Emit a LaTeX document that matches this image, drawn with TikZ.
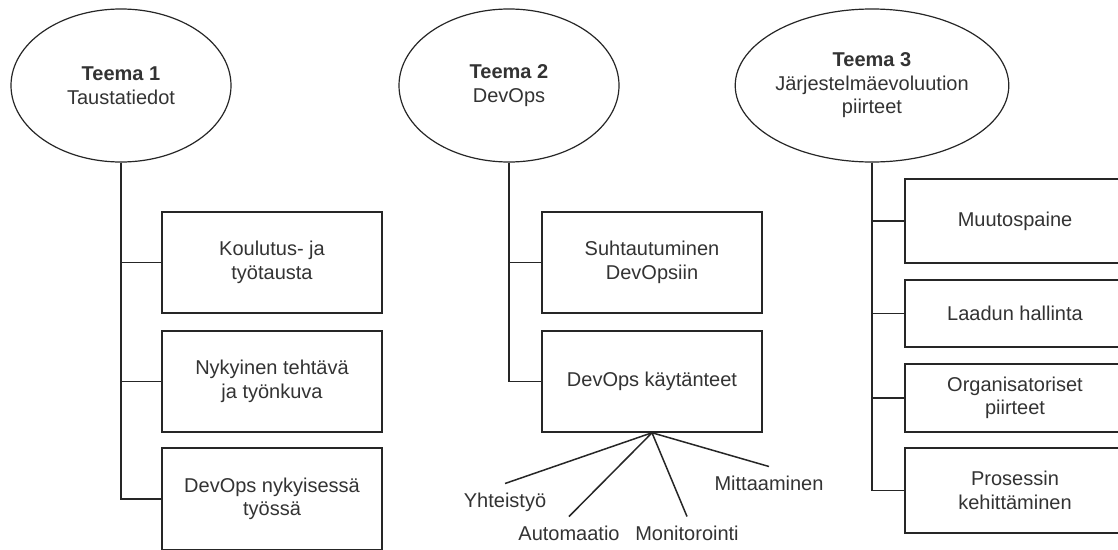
\documentclass[tikz,border=0pt]{standalone}
\usepackage{fontspec}
\setmainfont{Liberation Sans}
\usetikzlibrary{shapes.geometric}

\begin{document}
\begin{tikzpicture}[x=1pt, y=-1pt,
  every node/.style={font=\fontsize{20}{23.5}\selectfont, text=black!80},
  theme/.style={ellipse, draw=black!85, line width=1.2pt,
    minimum width=220pt, minimum height=153pt, inner sep=0pt, align=center},
  topic/.style={draw=black!85, line width=1.5pt, minimum width=220pt,
    inner sep=0pt, align=center},
  leaf/.style={inner sep=0pt, outer ysep=9pt, anchor=base},
  link/.style={draw=black!85, line width=1.5pt}]

  \fill[white] (0,0) rectangle (1118,549);
  \useasboundingbox (0,0) rectangle (1118,549);

  % themes
  \node[theme] (e1) at (121,85.5) {\textbf{Teema 1}\\Taustatiedot};
  \node[theme] (e2) at (509,85.5) {\textbf{Teema 2}\\DevOps};
  \node[theme] (e3) at (872,85.5) {\textbf{Teema 3}\\Järjestelmäevoluution\\piirteet};

  % theme 1 topics
  \node[topic, minimum height=101pt] (a1) at (272,262.5) {Koulutus- ja\\työtausta};
  \node[topic, minimum height=101pt] (a2) at (272,381.5) {Nykyinen tehtävä\\ja työnkuva};
  \node[topic, minimum height=102pt] (a3) at (272,499) {DevOps nykyisessä\\työssä};

  % theme 2 topics
  \node[topic, minimum height=101pt] (b1) at (652,262.5) {Suhtautuminen\\DevOpsiin};
  \node[topic, minimum height=101pt] (b2) at (652,381.5) {DevOps käytänteet};

  % theme 3 topics
  \node[topic, minimum height=84pt] (c1) at (1015,221) {Muutospaine};
  \node[topic, minimum height=67pt] (c2) at (1015,313.5) {Laadun hallinta};
  \node[topic, minimum height=68pt] (c3) at (1015,398) {Organisatoriset\\piirteet};
  \node[topic, minimum height=85pt] (c4) at (1015,490.5) {Prosessin\\kehittäminen};

  % practices
  \node[leaf] (yh) at (505,507) {Yhteistyö};
  \node[leaf] (au) at (569,540) {Automaatio};
  \node[leaf] (mo) at (687,540) {Monitorointi};
  \node[leaf] (mi) at (769,490) {Mittaaminen};

  % tree connectors
  \draw[link] (e1.south) |- (a1.west);
  \draw[link] (e1.south) |- (a2.west);
  \draw[link] (e1.south) |- (a3.west);
  \draw[link] (e2.south) |- (b1.west);
  \draw[link] (e2.south) |- (b2.west);
  \draw[link] (e3.south) |- (c1.west);
  \draw[link] (e3.south) |- (c2.west);
  \draw[link] (e3.south) |- (c3.west);
  \draw[link] (e3.south) |- (c4.west);

  % practice connectors
  \draw[link] (b2.south) -- (yh.north);
  \draw[link] (b2.south) -- (au.north);
  \draw[link] (b2.south) -- (mo.north);
  \draw[link] (b2.south) -- (mi.north);
\end{tikzpicture}
\end{document}
